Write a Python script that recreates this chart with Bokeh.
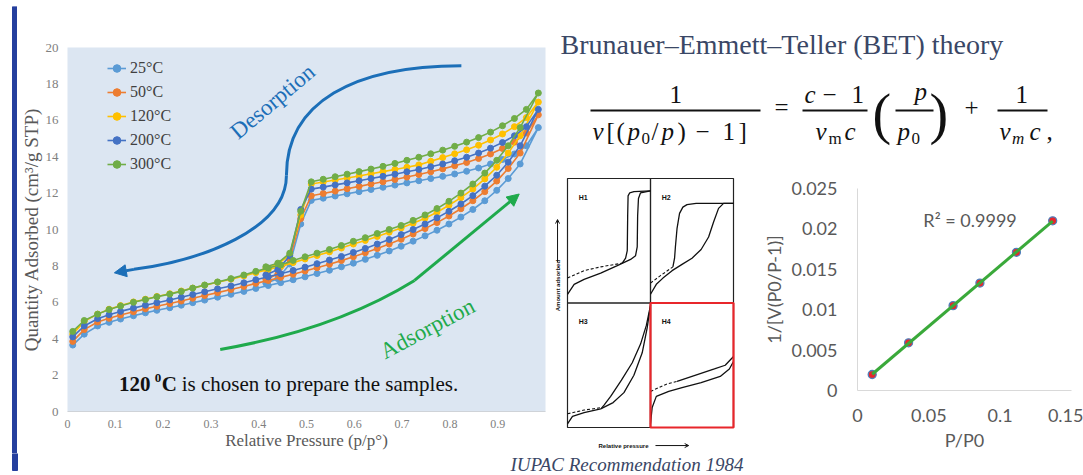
import numpy as np
from bokeh.plotting import figure
from bokeh.models import Range1d, FixedTicker, Label, Arrow, NormalHead, OpenHead
from bokeh.layouts import row, column
from bokeh.embed import file_html
from bokeh.resources import INLINE

# ---------------- data: isotherms (Degas Temperature Test) ----------------
ads_x = [0.011, 0.035, 0.063, 0.087, 0.111, 0.138, 0.163, 0.187, 0.214, 0.238,
         0.262, 0.287, 0.314, 0.342, 0.369, 0.394, 0.420, 0.446, 0.472, 0.497,
         0.522, 0.548, 0.573, 0.598, 0.623, 0.648, 0.673, 0.698, 0.723, 0.748,
         0.773, 0.798, 0.823, 0.848, 0.873, 0.898, 0.922, 0.947, 0.985]
des_x = [0.960, 0.935, 0.910, 0.885, 0.860, 0.835, 0.810, 0.785, 0.760, 0.735,
         0.710, 0.685, 0.660, 0.635, 0.610, 0.585, 0.560, 0.535, 0.510, 0.488,
         0.465, 0.440, 0.415]

ads_25 = [3.65, 4.25, 4.70, 4.90, 5.08, 5.26, 5.42, 5.56, 5.70, 5.84, 5.98, 6.12, 6.28,
          6.44, 6.60, 6.76, 6.92, 7.08, 7.24, 7.40, 7.58, 7.76, 7.95, 8.15, 8.36, 8.58,
          8.82, 9.08, 9.36, 9.65, 9.96, 10.30, 10.68, 11.10, 11.58, 12.15, 12.80, 13.60, 15.60]
des_25 = [14.60, 14.15, 13.85, 13.60, 13.38, 13.20, 13.05, 12.92, 12.80, 12.68, 12.56, 12.44,
          12.32, 12.20, 12.08, 11.96, 11.84, 11.72, 11.60, 10.30, 8.10, 7.30, 7.05]

ads_50 = [3.85, 4.50, 4.92, 5.12, 5.30, 5.48, 5.64, 5.78, 5.93, 6.07, 6.22, 6.37, 6.53,
          6.70, 6.87, 7.04, 7.20, 7.37, 7.54, 7.72, 7.90, 8.09, 8.29, 8.50, 8.72, 8.95,
          9.20, 9.46, 9.75, 10.05, 10.38, 10.74, 11.14, 11.58, 12.08, 12.66, 13.35, 14.20, 16.30]
des_50 = [15.30, 14.80, 14.45, 14.15, 13.90, 13.68, 13.50, 13.33, 13.17, 13.02, 12.88, 12.75,
          12.62, 12.50, 12.37, 12.24, 12.11, 11.98, 11.85, 10.60, 8.35, 7.55, 7.25]

ads_120 = [4.25, 4.95, 5.35, 5.62, 5.82, 6.02, 6.17, 6.32, 6.47, 6.62, 6.78, 6.94, 7.10,
           7.27, 7.45, 7.63, 7.80, 7.97, 8.18, 8.38, 8.57, 8.77, 8.98, 9.20, 9.40, 9.62,
           9.85, 10.08, 10.34, 10.62, 10.95, 11.33, 11.75, 12.22, 12.78, 13.42, 14.20, 15.15, 17.00]
des_120 = [16.15, 15.65, 15.25, 14.92, 14.63, 14.38, 14.16, 13.95, 13.75, 13.55, 13.42, 13.30,
           13.18, 13.06, 12.94, 12.83, 12.72, 12.61, 12.50, 10.80, 8.60, 8.10, 7.85]

ads_200 = [4.10, 4.70, 5.10, 5.32, 5.50, 5.68, 5.84, 5.98, 6.13, 6.28, 6.43, 6.58, 6.74,
           6.90, 7.07, 7.24, 7.40, 7.57, 7.75, 7.93, 8.12, 8.32, 8.52, 8.74, 8.96, 9.20,
           9.45, 9.72, 10.00, 10.30, 10.64, 11.00, 11.40, 11.86, 12.38, 12.98, 13.70, 14.60, 16.60]
des_200 = [15.65, 15.15, 14.78, 14.47, 14.20, 13.97, 13.78, 13.60, 13.45, 13.30, 13.17, 13.04,
           12.92, 12.80, 12.68, 12.56, 12.45, 12.33, 12.22, 11.10, 8.55, 7.80, 7.50]

ads_300 = [4.40, 5.00, 5.35, 5.60, 5.80, 6.00, 6.15, 6.30, 6.45, 6.60, 6.78, 6.95, 7.12,
           7.30, 7.50, 7.70, 7.88, 8.05, 8.30, 8.50, 8.70, 8.90, 9.12, 9.35, 9.55, 9.78,
           10.00, 10.22, 10.50, 10.80, 11.15, 11.55, 12.00, 12.50, 13.10, 13.80, 14.60, 15.60, 17.50]
des_300 = [16.60, 16.10, 15.70, 15.35, 15.05, 14.80, 14.57, 14.36, 14.16, 13.97, 13.80, 13.63,
           13.47, 13.32, 13.18, 13.04, 12.90, 12.76, 12.62, 11.00, 8.70, 8.15, 7.95]

series_names = ["25°C", "50°C", "120°C", "200°C", "300°C"]
series_colors = ["#5b9bd5", "#ed7d31", "#ffc000", "#4472c4", "#70ad47"]
series_ads = [ads_25, ads_50, ads_120, ads_200, ads_300]
series_des = [des_25, des_50, des_120, des_200, des_300]

x_ticks = [0, 0.1, 0.2, 0.3, 0.4, 0.5, 0.6, 0.7, 0.8, 0.9]
x_tick_labels = ["0", "0.1", "0.2", "0.3", "0.4", "0.5", "0.6", "0.7", "0.8", "0.9"]
y_ticks = [0, 2, 4, 6, 8, 10, 12, 14, 16, 18, 20]

# ---------------- data: BET plot ----------------
bet_x = [0.0103, 0.0358, 0.0670, 0.0858, 0.1114, 0.1368]
bet_y = [0.00198, 0.00590, 0.01050, 0.01330, 0.01710, 0.02100]
bet_x_ticks = [0, 0.05, 0.1, 0.15]
bet_x_labels = ["0", "0.05", "0.1", "0.15"]
bet_y_ticks = [0, 0.005, 0.01, 0.015, 0.02, 0.025]
bet_y_labels = ["0", "0.005", "0.01", "0.015", "0.02", "0.025"]

# ---------------- data: IUPAC hysteresis sketches (panel-local units) ----------------
h1_ads_u = [0.0, 0.08, 0.2, 0.4, 0.6, 0.76, 0.82, 0.84, 0.845, 0.855, 0.88, 1.0]
h1_ads_v = [0.07, 0.15, 0.19, 0.24, 0.30, 0.35, 0.38, 0.45, 0.70, 0.84, 0.885, 0.90]
h1_des_u = [1.0, 0.8, 0.75, 0.73, 0.725, 0.72, 0.70, 0.66]
h1_des_v = [0.90, 0.895, 0.885, 0.86, 0.70, 0.42, 0.36, 0.32]
h1_dash_u = [0.0, 0.2, 0.4, 0.66]
h1_dash_v = [0.20, 0.26, 0.29, 0.32]

h2_ads_u = [0.0, 0.07, 0.15, 0.26, 0.38, 0.5, 0.61, 0.7, 0.76, 0.82, 0.88, 1.0]
h2_ads_v = [0.07, 0.15, 0.20, 0.26, 0.31, 0.36, 0.43, 0.53, 0.65, 0.76, 0.80, 0.80]
h2_des_u = [1.0, 0.55, 0.44, 0.39, 0.35, 0.32, 0.30, 0.29, 0.27]
h2_des_v = [0.80, 0.80, 0.79, 0.77, 0.72, 0.60, 0.45, 0.36, 0.29]
h2_dash_u = [0.0, 0.12, 0.27]
h2_dash_v = [0.16, 0.22, 0.29]

h3_ads_u = [0.0, 0.06, 0.2, 0.4, 0.55, 0.68, 0.8, 0.9, 0.96, 1.0]
h3_ads_v = [0.03, 0.09, 0.12, 0.15, 0.20, 0.28, 0.42, 0.60, 0.80, 0.98]
h3_des_u = [1.0, 0.95, 0.88, 0.78, 0.65, 0.52, 0.44, 0.41]
h3_des_v = [0.98, 0.82, 0.67, 0.52, 0.38, 0.25, 0.18, 0.155]
h3_dash_u = [0.0, 0.2, 0.41]
h3_dash_v = [0.11, 0.14, 0.16]

h4_ads_u = [0.0, 0.02, 0.07, 0.22, 0.38, 0.61, 0.84, 0.95, 1.0]
h4_ads_v = [0.03, 0.16, 0.25, 0.29, 0.32, 0.36, 0.41, 0.47, 0.53]
h4_des_u = [1.0, 0.9, 0.77, 0.5, 0.32]
h4_des_v = [0.57, 0.50, 0.47, 0.41, 0.37]
h4_dash_u = [0.0, 0.1, 0.2, 0.32]
h4_dash_v = [0.29, 0.32, 0.35, 0.37]

SERIF = "Liberation Serif"
SANS = "Liberation Sans"
BLUE_BAR = "#253f9e"
ARROW_BLUE = "#1c6fb8"
ARROW_GREEN = "#1faa4c"
BASE_SHIFT = 0.3   # bokeh places 'alphabetic' labels about 0.3 em low; compensate

TOP_H = 6          # top bar strip height
ROW_H = 447        # main row height
BOT_H = 22         # caption strip height


def bare(width, height, xr, yr):
    f = figure(width=width, height=height, x_range=Range1d(*xr), y_range=Range1d(*yr),
               x_axis_type=None, y_axis_type=None, output_backend="svg", title=None,
               toolbar_location=None, min_border=0, outline_line_color=None,
               background_fill_color="white", border_fill_color="white", frame_align=False)
    f.grid.visible = False
    return f


# ---------------- top bar strip ----------------
top = bare(1083, TOP_H, (0, 1083), (TOP_H, 0))
top.quad(left=0, right=1083, top=0, bottom=3.5, color="#1b9aaa")
top.quad(left=0, right=1083, top=3.5, bottom=TOP_H, color="#a3abac")
top.quad(left=12, right=17, top=1, bottom=TOP_H, color=BLUE_BAR)

# ---------------- left strip with blue bar ----------------
lstrip = bare(17, ROW_H, (0, 17), (ROW_H, 0))
lstrip.quad(left=12, right=17, top=0, bottom=ROW_H, color=BLUE_BAR)

# ---------------- main isotherm chart ----------------
p = figure(width=531, height=ROW_H, x_range=Range1d(0, 1.0), y_range=Range1d(0, 20),
           output_backend="svg", toolbar_location=None, frame_align=False, title=None,
           min_border_left=46, min_border_right=3, min_border_top=47 - TOP_H,
           min_border_bottom=ROW_H - (47 - TOP_H) - 364,
           background_fill_color="#dce6f2", border_fill_color="white", outline_line_color=None)
p.grid.visible = False

for name, col, a, d in zip(series_names, series_colors, series_ads, series_des):
    xs = ads_x + des_x
    ys = a + d
    p.line(xs, ys, line_color=col, line_width=1.6, legend_label=name)
    p.scatter(xs, ys, size=6, fill_color=col, line_color=col, legend_label=name)

p.xaxis.ticker = FixedTicker(ticks=x_ticks)
p.xaxis.major_label_overrides = {t: l for t, l in zip(x_ticks, x_tick_labels)}
p.yaxis.ticker = FixedTicker(ticks=y_ticks)
for ax in (p.xaxis, p.yaxis):
    ax.major_tick_line_color = None
    ax.minor_tick_line_color = None
    ax.major_tick_out = 0
    ax.major_tick_in = 0
    ax.minor_tick_out = 0
    ax.major_label_text_font = SERIF
    ax.major_label_text_color = "#808080"
    ax.axis_label_text_font = SERIF
    ax.axis_label_text_font_style = "normal"
    ax.axis_label_text_color = "#595959"
p.xaxis.axis_line_color = "#cfd3d8"
p.yaxis.axis_line_color = None
p.xaxis.major_label_text_font_size = "12px"
p.yaxis.major_label_text_font_size = "13px"
p.xaxis.major_label_standoff = 8
p.yaxis.major_label_standoff = 9
p.xaxis.axis_label = "Relative Pressure (p/p°)"
p.yaxis.axis_label = "Quantity Adsorbed (cm³/g STP)"
p.xaxis.axis_label_text_font_size = "17px"
p.yaxis.axis_label_text_font_size = "19px"
p.xaxis.axis_label_standoff = 0
p.yaxis.axis_label_standoff = 1

lg = p.legend[0]
lg.location = (40, 237)
lg.padding = 0
lg.margin = 0
lg.spacing = 4
lg.glyph_width = 19
lg.glyph_height = 20
lg.label_height = 20
lg.label_standoff = 4
lg.label_text_font = SERIF
lg.label_text_font_size = "16px"
lg.label_text_color = "#404040"
lg.background_fill_alpha = 0
lg.border_line_color = None

p.add_layout(Label(x=0.456, y=21.65, text="Degas Temperature Test", text_align="center",
                   text_baseline="middle", text_font=SERIF, text_font_style="bold",
                   text_font_size="18px", text_color="#404040"))

# desorption arrow (blue)
p.bezier(x0=[0.824], y0=[19.0], x1=[0.458], y1=[12.97], cx0=[0.60], cy0=[19.0],
         cx1=[0.458], cy1=[17.0], line_color=ARROW_BLUE, line_width=3)
p.bezier(x0=[0.458], y0=[12.97], x1=[0.139], y1=[7.81], cx0=[0.458], cy0=[10.0],
         cx1=[0.28], cy1=[8.3], line_color=ARROW_BLUE, line_width=3)
p.add_layout(Arrow(end=NormalHead(size=12, fill_color=ARROW_BLUE, line_color=ARROW_BLUE),
                   x_start=0.139, y_start=7.81, x_end=0.098, y_end=7.62,
                   line_color=ARROW_BLUE, line_width=3))
p.add_layout(Label(x=0.429, y=17.03, text="Desorption", angle=np.deg2rad(40),
                   text_align="center", text_baseline="middle", text_font=SERIF,
                   text_font_size="23px", text_color=ARROW_BLUE))

# adsorption arrow (green)
p.quadratic(x0=[0.3195], y0=[3.41], x1=[0.726], y1=[7.2], cx=[0.56], cy=[4.5],
            line_color=ARROW_GREEN, line_width=3)
p.add_layout(Arrow(end=NormalHead(size=12, fill_color=ARROW_GREEN, line_color=ARROW_GREEN),
                   x_start=0.726, y_start=7.2, x_end=0.945, y_end=11.95,
                   line_color=ARROW_GREEN, line_width=3))
p.add_layout(Label(x=0.753, y=4.56, text="Adsorption", angle=np.deg2rad(28),
                   text_align="center", text_baseline="middle", text_font=SERIF,
                   text_font_size="23px", text_color=ARROW_GREEN))

# note text (baseline at 1.15 data units, shifted for bokeh's baseline placement)
PX_PER_UNIT_Y = 18.2
p.add_layout(Label(x=0.108, y=1.15 + BASE_SHIFT * 21 / PX_PER_UNIT_Y, text="120", text_font=SERIF,
                   text_font_style="bold", text_font_size="21px", text_color="#111111",
                   text_baseline="alphabetic"))
p.add_layout(Label(x=0.1826, y=1.65 + BASE_SHIFT * 13 / PX_PER_UNIT_Y, text="0", text_font=SERIF,
                   text_font_style="bold", text_font_size="13px", text_color="#111111",
                   text_baseline="alphabetic"))
p.add_layout(Label(x=0.197, y=1.15 + BASE_SHIFT * 21 / PX_PER_UNIT_Y, text="C", text_font=SERIF,
                   text_font_style="bold", text_font_size="21px", text_color="#111111",
                   text_baseline="alphabetic"))
p.add_layout(Label(x=0.239, y=1.15 + BASE_SHIFT * 21 / PX_PER_UNIT_Y,
                   text="is chosen to prepare the samples.", text_font=SERIF,
                   text_font_size="21px", text_color="#111111", text_baseline="alphabetic"))

# ---------------- formula block (SVG text pieces, pixel coordinates, y downward) ----------------
FM_H = 165 - TOP_H
FM_OFF = 8 - TOP_H
fm = bare(535, FM_H, (0, 535), (FM_H, 0))


def ftxt(x, base, t, size=25, style="normal", color="#111111"):
    fm.add_layout(Label(x=x, y=base + FM_OFF - BASE_SHIFT * size, text=t, text_font=SERIF,
                        text_font_size="%spx" % size, text_font_style=style, text_align="left",
                        text_baseline="alphabetic", text_color=color))


ftxt(12, 44.5, "Brunauer–Emmett–Teller (BET) theory", size=28, color="#3a4766")
NUM, DEN, SUBY = 93.5, 130.5, 135.5
# first fraction
ftxt(121, NUM, "1")
ftxt(44, DEN, "v", style="italic")
ftxt(58, DEN, "[")
ftxt(68, DEN, "(")
ftxt(79, DEN, "p", style="italic")
ftxt(93, SUBY, "0", size=17)
ftxt(103, DEN, "/")
ftxt(113, DEN, "p", style="italic")
ftxt(129, DEN, ")")
ftxt(147, DEN, "−")
ftxt(174, DEN, "1")
ftxt(190, DEN, "]")
ftxt(226, 106.5, "=")
# second fraction
ftxt(256, NUM, "c", style="italic")
ftxt(274, NUM, "−")
ftxt(303, NUM, "1")
ftxt(267, DEN, "v", style="italic")
ftxt(280, SUBY, "m", size=17)
ftxt(296, DEN, "c", style="italic")
# (p / p0)
ftxt(324, 122.5, "(", size=56)
ftxt(366, 90.5, "p", style="italic")
ftxt(349, DEN, "p", style="italic")
ftxt(363, SUBY, "0", size=17)
ftxt(381, 122.5, ")", size=56)
ftxt(416, 106.5, "+")
# last fraction
ftxt(467, NUM, "1")
ftxt(451, DEN, "v", style="italic")
ftxt(463.5, SUBY, "m", size=17, style="italic")
ftxt(481, DEN, "c", style="italic")
ftxt(498, DEN, ",")
bar_y = 102 + FM_OFF
fm.segment(x0=[42, 254, 347, 449], y0=[bar_y] * 4, x1=[212, 319, 385, 499],
           y1=[bar_y] * 4, line_color="#111111", line_width=1.8)

# ---------------- IUPAC hysteresis figure ----------------
SUB_H = TOP_H + ROW_H - 165
iu = bare(212, SUB_H, (-19 / 83, 193 / 83),
          (-(TOP_H + ROW_H - 427) / 124.5, 2 + 13 / 124.5))
panel_left = [0, 1, 0, 1]
panel_bottom = [1, 1, 0, 0]
iu.quad(left=panel_left, right=[v + 1 for v in panel_left], bottom=panel_bottom,
        top=[v + 1 for v in panel_bottom], fill_color=None, line_color="#222222", line_width=1.2)
panels = [
    (0, 1, h1_ads_u, h1_ads_v, h1_des_u, h1_des_v, h1_dash_u, h1_dash_v, "H1"),
    (1, 1, h2_ads_u, h2_ads_v, h2_des_u, h2_des_v, h2_dash_u, h2_dash_v, "H2"),
    (0, 0, h3_ads_u, h3_ads_v, h3_des_u, h3_des_v, h3_dash_u, h3_dash_v, "H3"),
    (1, 0, h4_ads_u, h4_ads_v, h4_des_u, h4_des_v, h4_dash_u, h4_dash_v, "H4"),
]
for ox, oy, au, av, du, dv, su, sv, nm in panels:
    iu.line([u + ox for u in au], [v + oy for v in av], line_color="#111111", line_width=1.3)
    iu.line([u + ox for u in du], [v + oy for v in dv], line_color="#111111", line_width=1.3)
    iu.line([u + ox for u in su], [v + oy for v in sv], line_color="#111111", line_width=1.1,
            line_dash="3 2")
    iu.add_layout(Label(x=ox + 0.19, y=oy + 0.85, text=nm, text_align="center",
                        text_baseline="middle", text_font=SANS, text_font_style="bold",
                        text_font_size="7px", text_color="#111111"))
iu.quad(left=1, right=2, bottom=0, top=1, fill_color=None, line_color="#e8262b", line_width=2.2)
iu.add_layout(Label(x=-0.12, y=1.14, text="Amount adsorbed", angle=np.pi / 2, text_align="center",
                    text_baseline="middle", text_font=SANS, text_font_style="bold",
                    text_font_size="6px", text_color="#111111"))
iu.add_layout(Arrow(end=OpenHead(size=4, line_color="#111111", line_width=1), x_start=-0.12,
                    y_start=1.33, x_end=-0.12, y_end=1.67, line_color="#111111", line_width=1))
iu.add_layout(Label(x=0.675, y=-0.145, text="Relative pressure", text_align="center",
                    text_baseline="middle", text_font=SANS, text_font_style="bold",
                    text_font_size="6px", text_color="#111111"))
iu.add_layout(Arrow(end=OpenHead(size=4, line_color="#111111", line_width=1), x_start=1.06,
                    y_start=-0.145, x_end=1.46, y_end=-0.145, line_color="#111111", line_width=1))

# ---------------- BET linear plot ----------------
b = figure(width=323, height=SUB_H, x_range=Range1d(0, 0.15), y_range=Range1d(0, 0.025),
           output_backend="svg", toolbar_location=None, frame_align=False, title=None,
           min_border_left=93, min_border_right=12, min_border_top=23,
           min_border_bottom=SUB_H - 23 - 202,
           background_fill_color="white", border_fill_color="white", outline_line_color=None)
b.grid.visible = False
b.xaxis.ticker = FixedTicker(ticks=bet_x_ticks)
b.xaxis.major_label_overrides = {t: l for t, l in zip(bet_x_ticks, bet_x_labels)}
b.yaxis.ticker = FixedTicker(ticks=bet_y_ticks)
b.yaxis.major_label_overrides = {t: l for t, l in zip(bet_y_ticks, bet_y_labels)}
for ax in (b.xaxis, b.yaxis):
    ax.major_tick_line_color = None
    ax.minor_tick_line_color = None
    ax.major_tick_out = 0
    ax.major_tick_in = 0
    ax.minor_tick_out = 0
    ax.axis_line_color = "#d9d9d9"
    ax.major_label_text_font = "Lato"
    ax.major_label_text_font_size = "18px"
    ax.major_label_text_color = "#595959"
    ax.axis_label_text_font = "Lato"
    ax.axis_label_text_font_style = "normal"
    ax.axis_label_text_font_size = "18px"
    ax.axis_label_text_color = "#595959"
b.xaxis.major_label_standoff = 18
b.yaxis.major_label_standoff = 20
b.xaxis.axis_label = "P/P0"
b.yaxis.axis_label = "1/[V(P0/P-1)]"
b.xaxis.axis_label_standoff = 4
b.yaxis.axis_label_standoff = 3

b.scatter(bet_x, bet_y, size=8, fill_color="#e8262b", line_color="#4f81bd", line_width=1.3)
slope, intercept = np.polyfit(bet_x, bet_y, 1)
fit_x = [min(bet_x), max(bet_x)]
b.line(fit_x, [slope * v + intercept for v in fit_x], line_color="#3aa93a", line_width=3)
b.add_layout(Label(x=0.0789, y=0.02104, text="R² = 0.9999", text_align="center",
                   text_baseline="middle", text_font="Lato", text_font_size="18px",
                   text_color="#595959"))

# ---------------- bottom strip with caption ----------------
bot = bare(1083, BOT_H, (0, 1083), (BOT_H, 0))
cap_base = 470 - (TOP_H + ROW_H)
bot.quad(left=12, right=17, top=0, bottom=cap_base, color=BLUE_BAR)
bot.add_layout(Label(x=510, y=cap_base - BASE_SHIFT * 19, text="IUPAC Recommendation 1984",
                     text_font=SERIF, text_font_style="italic", text_font_size="19px",
                     text_color="#3a4766", text_baseline="alphabetic"))

layout = column(top, row(lstrip, p, column(fm, row(iu, b))), bot)

with open("out.html", "w") as fh:
    fh.write(file_html(layout, INLINE))
